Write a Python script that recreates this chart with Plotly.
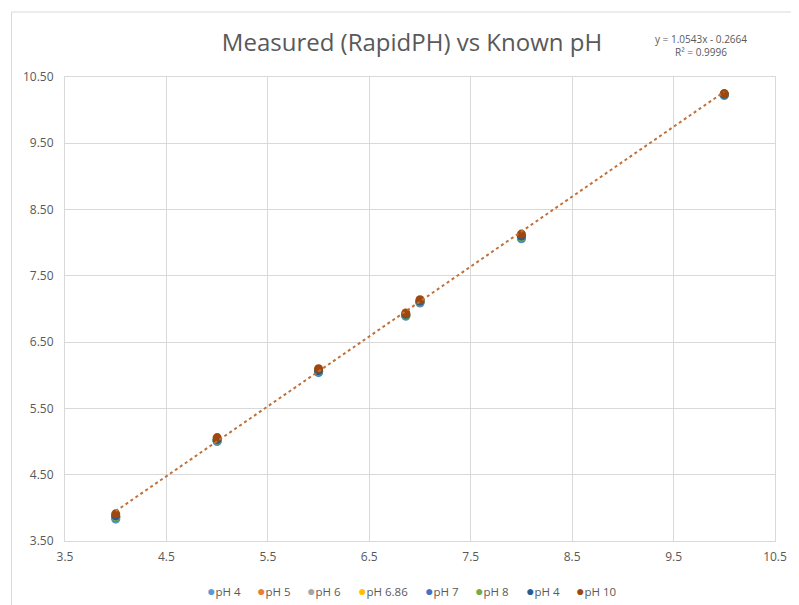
import numpy as np
import plotly.graph_objects as go

# Known pH values (x)
known_ph = [4, 5, 6, 6.86, 7, 8, 10]

# Series names (as shown in legend) and their measured values
series_names = ["pH 4", "pH 5", "pH 6", "pH 6.86", "pH 7", "pH 8", "pH 4", "pH 10"]
series_colors = ["#5B9BD5", "#ED7D31", "#A5A5A5", "#FFC000", "#4472C4", "#70AD47", "#255E91", "#9E480E"]

s1 = [3.83, 5.00, 6.04, 6.89, 7.09, 8.06, 10.22]
s2 = [3.86, 5.02, 6.06, 6.90, 7.10, 8.08, 10.23]
s3 = [3.87, 5.02, 6.06, 6.91, 7.11, 8.08, 10.24]
s4 = [3.88, 5.03, 6.07, 6.91, 7.11, 8.09, 10.24]
s5 = [3.85, 5.01, 6.05, 6.90, 7.10, 8.07, 10.23]
s6 = [3.86, 5.02, 6.06, 6.91, 7.11, 8.08, 10.24]
s7 = [3.88, 5.03, 6.07, 6.92, 7.12, 8.10, 10.24]
s8 = [3.91, 5.06, 6.10, 6.94, 7.14, 8.13, 10.25]
series_values = [s1, s2, s3, s4, s5, s6, s7, s8]

# Linear trendline of last series (as labelled on chart)
trend_slope = 1.0543
trend_intercept = -0.2664
trend_r2 = 0.9996

x_ticks = [3.5, 4.5, 5.5, 6.5, 7.5, 8.5, 9.5, 10.5]
y_ticks = [3.5, 4.5, 5.5, 6.5, 7.5, 8.5, 9.5, 10.5]

FONT = "Open Sans"
GRAY = "#595959"
GRID = "#D9D9D9"

W, H = 791, 597  # page body has 8px margin
L, T = 57, 69
PW, PH = 717, 464

fig = go.Figure()

for name, color, vals in zip(series_names, series_colors, series_values):
    fig.add_trace(go.Scatter(
        x=known_ph, y=vals, mode="markers", name=name,
        marker=dict(color=color, size=9, symbol="circle"),
    ))

tx = np.array([min(known_ph), max(known_ph)], dtype=float)
ty = trend_slope * tx + trend_intercept
fig.add_trace(go.Scatter(
    x=tx, y=ty, mode="lines", showlegend=False, hoverinfo="skip",
    line=dict(color="#C0703A", width=2, dash="dot"),
))

fig.update_layout(
    width=W, height=H, autosize=False,
    margin=dict(l=L, r=W - L - PW, t=T, b=H - T - PH),
    paper_bgcolor="white", plot_bgcolor="white",
    font=dict(family=FONT, size=11, color=GRAY),
    title=dict(text="Measured (RapidPH) vs Known pH", x=404 / W, xref="container",
               y=1 - 35 / H, yref="container", xanchor="center", yanchor="middle",
               font=dict(family=FONT, size=24, color=GRAY)),
    xaxis=dict(range=[3.5, 10.5], tickvals=x_ticks, ticktext=[f"{v:.1f}" for v in x_ticks],
               showgrid=True, gridcolor=GRID, gridwidth=1, zeroline=False,
               showline=True, linecolor=GRID, linewidth=1, mirror=True,
               ticks="", ticklabelstandoff=5, tickfont=dict(size=12, color=GRAY)),
    yaxis=dict(range=[3.5, 10.5], tickvals=y_ticks, ticktext=[f"{v:.2f}" for v in y_ticks],
               showgrid=True, gridcolor=GRID, gridwidth=1, zeroline=False,
               showline=True, linecolor=GRID, linewidth=1, mirror=True,
               ticks="", ticklabelstandoff=8, tickfont=dict(size=12, color=GRAY)),
    showlegend=False,
)

# Legend row (compact, Excel-like), one entry per series
lx = 206 - 8  # left edge of first entry (figure px)
ly = (T + PH - 582) / PH
for n, c in zip(series_names, series_colors):
    fig.add_annotation(
        text=f"<span style='color:{c};font-size:14px'>●</span>{n}",
        xref="paper", yref="paper", x=(lx - L) / PW, y=ly,
        showarrow=False, xanchor="left", yanchor="middle",
        font=dict(family=FONT, size=11.5, color=GRAY),
    )
    lx += 28.5 + 5.6 * len(n)

fig.add_annotation(
    text=f"y = {trend_slope:.4f}x - {abs(trend_intercept):.4f}<br>R² = {trend_r2:.4f}",
    xref="paper", yref="paper", x=(699 - L) / PW, y=(T + PH - 38) / PH,
    showarrow=False, xanchor="center", yanchor="middle", align="center",
    font=dict(family=FONT, size=10, color=GRAY),
)

fig.add_shape(type="rect", xref="paper", yref="paper",
              x0=(3 - L) / PW, x1=1.2, y0=-0.3, y1=(T + PH - 4) / PH,
              line=dict(color=GRID, width=1), fillcolor="rgba(0,0,0,0)", layer="below")

fig.write_html("out.html")
